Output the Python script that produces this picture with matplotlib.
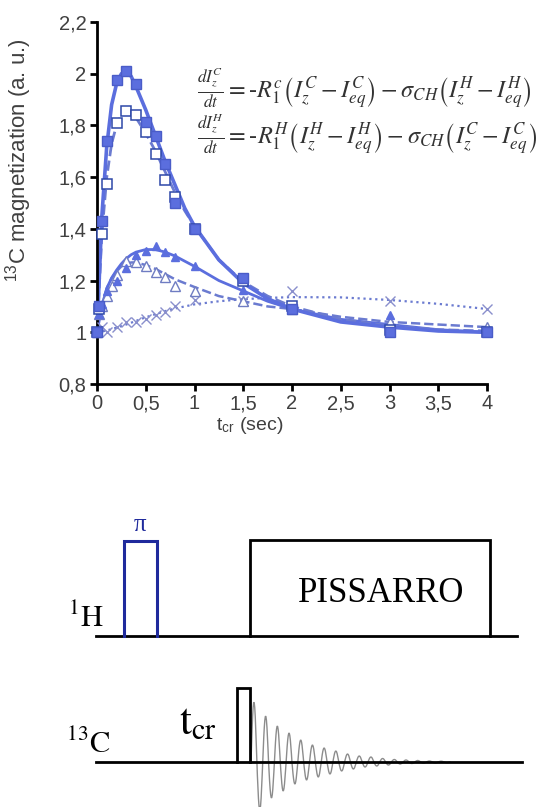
import numpy as np
import matplotlib
matplotlib.use('Agg')
import matplotlib.pyplot as plt
from matplotlib.ticker import MultipleLocator, FuncFormatter

plt.rcParams['font.family'] = ['Liberation Sans', 'DejaVu Sans']
plt.rcParams['mathtext.fontset'] = 'stix'

# --- measured points ---
t_sq = [0, 0.02, 0.05, 0.1, 0.2, 0.3, 0.4, 0.5, 0.6, 0.7, 0.8, 1.0, 1.5, 2, 3, 4]
sq_filled = [1.0, 1.10, 1.43, 1.74, 1.975, 2.01, 1.96, 1.815, 1.76, 1.65, 1.50, 1.40, 1.21, 1.09, 1.0, 1.0]
sq_open = [1.0, 1.09, 1.38, 1.575, 1.81, 1.855, 1.84, 1.775, 1.69, 1.59, 1.525, 1.40, 1.20, 1.10, 1.01, 1.0]

t_tri_f = [0, 0.02, 0.05, 0.1, 0.2, 0.3, 0.4, 0.5, 0.6, 0.7, 0.8, 1.0, 1.5, 2, 3, 4]
tri_filled = [1.0, 1.07, 1.11, 1.16, 1.20, 1.25, 1.30, 1.315, 1.335, 1.31, 1.29, 1.255, 1.165, 1.10, 1.065, 1.0]
t_tri_o = [0, 0.02, 0.05, 0.1, 0.15, 0.2, 0.3, 0.4, 0.5, 0.6, 0.7, 0.8, 1.0, 1.5, 2, 3, 4]
tri_open = [1.0, 1.07, 1.10, 1.14, 1.18, 1.22, 1.275, 1.27, 1.255, 1.235, 1.215, 1.18, 1.16, 1.12, 1.09, 1.04, 1.02]

t_x = [0, 0.05, 0.1, 0.2, 0.3, 0.4, 0.5, 0.6, 0.7, 0.8, 1.0, 1.5, 2, 3, 4]
x_vals = [1.0, 1.02, 1.0, 1.02, 1.04, 1.04, 1.05, 1.065, 1.08, 1.10, 1.125, 1.12, 1.16, 1.12, 1.09]

# --- fitted curves ---
fit_t = [0, 0.05, 0.1, 0.15, 0.2, 0.25, 0.3, 0.35, 0.4, 0.5, 0.6, 0.7, 0.8, 0.9, 1.0,
         1.25, 1.5, 1.75, 2.0, 2.5, 3.0, 3.5, 4.0]
fit_sq_filled = [1.0, 1.45, 1.72, 1.88, 1.96, 2.0, 2.01, 1.99, 1.95, 1.86, 1.76, 1.66, 1.57, 1.48, 1.41,
                 1.28, 1.19, 1.13, 1.09, 1.04, 1.02, 1.005, 1.0]
fit_sq_open = [1.0, 1.38, 1.60, 1.73, 1.80, 1.84, 1.85, 1.845, 1.83, 1.77, 1.70, 1.62, 1.54, 1.47, 1.41,
               1.28, 1.195, 1.14, 1.10, 1.05, 1.025, 1.01, 1.005]
fit_tri_filled = [1.0, 1.10, 1.17, 1.21, 1.24, 1.265, 1.285, 1.30, 1.31, 1.32, 1.32, 1.31, 1.295, 1.275, 1.255,
                  1.20, 1.16, 1.12, 1.09, 1.05, 1.03, 1.01, 1.0]
fit_tri_open = [1.0, 1.10, 1.17, 1.21, 1.235, 1.255, 1.265, 1.27, 1.27, 1.26, 1.245, 1.225, 1.205, 1.19, 1.175,
                1.14, 1.12, 1.10, 1.09, 1.06, 1.04, 1.03, 1.02]
fit_cross = [1.0, 1.003, 1.007, 1.012, 1.018, 1.024, 1.03, 1.037, 1.044, 1.058, 1.07, 1.082, 1.092, 1.10, 1.108,
             1.12, 1.128, 1.133, 1.136, 1.135, 1.125, 1.11, 1.09]

eq1 = r'$\frac{dI_z^C}{dt} = \text{-}R_1^c\left(I_z^C - I_{eq}^C\right) - \sigma_{CH}\left(I_z^H - I_{eq}^H\right)$'
eq2 = r'$\frac{dI_z^H}{dt} = \text{-}R_1^H\left(I_z^H - I_{eq}^H\right) - \sigma_{CH}\left(I_z^C - I_{eq}^C\right)$'

# --- pulse sequence sketch (pixel-like units, y up) ---
h_line = [96, 517]
h_y = 171
pi_pulse = [124, 157, 266]
pissarro = [250, 490, 267]
c_line = [96, 522]
c_y = 45
c_pulse = [237, 250, 119]
fid_start = 251
fid_half = 5.85
fid_amp = [60, 48, 46, 36, 36, 29, 29, 22, 22, 18, 17, 15, 14, 12, 11, 9, 8, 7, 6, 5,
           5, 4, 3.5, 3, 2.5, 2, 2, 1.5, 1.5, 1.2, 1, 1, 0.8, 0.7]

c_main = '#5b6ede'
c_open_sq = '#2d48a8'
c_open_tri = '#6f7cc2'
c_cross = '#8a8fcc'
c_dash = '#6b7bd0'

fig = plt.figure(figsize=(5.46, 8.07), dpi=100)
ax = fig.add_axes([97 / 546, 1 - 384 / 807, 390 / 546, 362 / 807])

ax.plot(fit_t, fit_cross, ':', color=c_dash, lw=1.6, zorder=2)
ax.plot(fit_t, fit_tri_open, '--', color=c_dash, lw=1.8, zorder=2)
ax.plot(fit_t, fit_tri_filled, '-', color=c_main, lw=2.0, zorder=2)
ax.plot(fit_t, fit_sq_open, '--', color=c_dash, lw=2.0, zorder=2)
ax.plot(fit_t, fit_sq_filled, '-', color=c_main, lw=2.6, zorder=2)

ax.plot(t_x, x_vals, 'x', color=c_cross, ms=7, mew=1.0, zorder=3, clip_on=False)
ax.plot(t_tri_o, tri_open, '^', mfc='white', mec=c_open_tri, ms=6.5, mew=1.0, zorder=3, clip_on=False)
ax.plot(t_tri_f, tri_filled, '^', color=c_main, ms=5.5, zorder=3, clip_on=False)
ax.plot(t_sq, sq_open, 's', mfc='white', mec=c_open_sq, ms=6.5, mew=1.1, zorder=4, clip_on=False)
ax.plot(t_sq, sq_filled, 's', color=c_main, mec='#4a5cc8', ms=6.5, zorder=4, clip_on=False)

ax.set_xlim(0, 4)
ax.set_ylim(0.8, 2.2)
ax.xaxis.set_major_locator(MultipleLocator(0.5))
ax.yaxis.set_major_locator(MultipleLocator(0.2))
comma = FuncFormatter(lambda v, p: f'{v:.1f}'.rstrip('0').rstrip('.').replace('.', ','))
ax.xaxis.set_major_formatter(comma)
ax.yaxis.set_major_formatter(comma)
for s in ['top', 'right']:
    ax.spines[s].set_visible(False)
for s in ['left', 'bottom']:
    ax.spines[s].set_linewidth(2)
ax.tick_params(direction='out', length=5, width=2, labelsize=14.5, labelcolor='#404040', pad=2.5)

fig.text(19 / 546, 1 - 160 / 807, r'$\mathregular{^{13}}$C magnetization (a. u.)', rotation=90,
         ha='center', va='center', fontsize=16, color='#404040')
fig.text(250 / 546, 1 - 426 / 807, r't$_{\mathregular{cr}}$ (sec)', ha='center', va='center',
         fontsize=14, color='#404040')

fig.text(197 / 546, 1 - 88 / 807, eq1, ha='left', va='center', fontsize=17.5, color='#333333')
fig.text(197 / 546, 1 - 134 / 807, eq2, ha='left', va='center', fontsize=17.5, color='#333333')

# pulse sequence
ax2 = fig.add_axes([0, 0, 1, 323 / 807])
ax2.set_xlim(0, 546)
ax2.set_ylim(0, 323)
ax2.axis('off')

ax2.plot(h_line, [h_y, h_y], color='black', lw=2)
ax2.plot([pi_pulse[0], pi_pulse[0], pi_pulse[1], pi_pulse[1]], [h_y, pi_pulse[2], pi_pulse[2], h_y],
         color='#1f2a9c', lw=2.2, solid_joinstyle='miter')
ax2.text((pi_pulse[0] + pi_pulse[1]) / 2, pi_pulse[2] + 5, 'π', color='#1f2a9c', family='Liberation Serif',
         ha='center', va='bottom', fontsize=18)
ax2.plot([pissarro[0], pissarro[0], pissarro[1], pissarro[1]], [h_y, pissarro[2], pissarro[2], h_y],
         color='black', lw=2, solid_joinstyle='miter')
ax2.text(381, 214, 'PISSARRO', family='Liberation Serif', fontsize=25, ha='center', va='center')
ax2.text(86, 188, r'$^{1}\mathrm{H}$', fontsize=22, ha='center', va='center')

ax2.plot(c_line, [c_y, c_y], color='black', lw=2)
ax2.plot([c_pulse[0], c_pulse[0], c_pulse[1], c_pulse[1]], [c_y, c_pulse[2], c_pulse[2], c_y],
         color='black', lw=2, solid_joinstyle='miter')
ax2.text(198, 84, r'$\mathrm{t}_{\mathrm{cr}}$', fontsize=31, ha='center', va='center')
ax2.text(88, 62, r'$^{13}\mathrm{C}$', fontsize=22, ha='center', va='center')

# FID as half-lobes with the read amplitudes
fx, fy = [], []
for k, a in enumerate(fid_amp):
    xs = np.linspace(0, 1, 12)
    fx.extend(fid_start + (k + xs) * fid_half)
    fy.extend(c_y + (1 if k % 2 == 0 else -1) * a * np.sin(np.pi * xs))
ax2.plot(fx, fy, color='#8c8c8c', lw=1.0, zorder=1)

fig.savefig('out.png', dpi=100)
